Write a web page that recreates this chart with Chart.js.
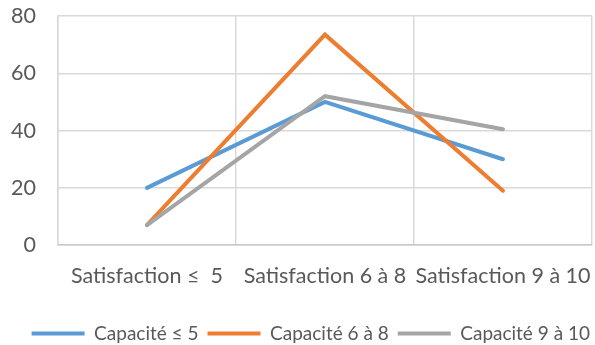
<!DOCTYPE html>
<html>
<head>
<meta charset="utf-8">
<script src="https://cdn.jsdelivr.net/npm/chart.js@4"></script>
<style>
    html, body { margin: 0; padding: 0; background: #fff; }
    #wrap { width: 595px; height: 345px; }
</style>
</head>
<body>
<div id="wrap"><canvas id="satisfaction"></canvas></div>
<script>
const categories = ['Satisfaction \u2264  5', 'Satisfaction 6 \u00e0 8', 'Satisfaction 9 \u00e0 10']

const capacite_5 = [20, 50, 30]
const capacite_6_8 = [7, 73.5, 19]
const capacite_9_10 = [7, 52, 40.5]

const series_names = ['Capacit\u00e9 \u2264 5', 'Capacit\u00e9 6 \u00e0 8', 'Capacit\u00e9 9 \u00e0 10']
const series_colors = ['#5B9BD5', '#ED7D31', '#A5A5A5']

const text_color = '#595959'
const grid_color = '#d9d9d9'
const axis_font = {family: 'Lato', size: 21.5}

function make_dataset(i, values)
{
    return {
        label: series_names[i],
        data: values,
        borderColor: series_colors[i],
        backgroundColor: series_colors[i],
        borderWidth: 4,
        borderCapStyle: 'round',
        borderJoinStyle: 'miter',
        pointRadius: 0,
        pointHoverRadius: 0,
        tension: 0,
        fill: false,
        pointStyle: 'line',
    }
}

// décale la légende vers la droite (le padding des items la tient loin du bord)
const shift_legend = {
    id: 'shift_legend',
    afterLayout(chart) {
        chart.legend.left += 7
        chart.legend.right += 7
    }
}

// l'espace entre libellés et axe passe par tickLength (invisible)
// pour que ticks.padding ne rogne pas la zone de tracé
new Chart(
    document.getElementById('satisfaction'),
    {
        type: 'line',
        plugins: [shift_legend],
        data: {
            labels: categories,
            // ordre inverse: gris dessous, orange au-dessus
            datasets: [
                make_dataset(2, capacite_9_10),
                make_dataset(1, capacite_6_8),
                make_dataset(0, capacite_5),
            ],
        },
        options: {
            responsive: true,
            maintainAspectRatio: false,
            animation: false,
            layout: {
                padding: {top: 16, right: 3, left: 11, bottom: -8}
            },
            plugins: {
                legend: {
                    position: 'bottom',
                    align: 'end',
                    reverse: true,
                    labels: {
                        color: text_color,
                        font: {family: 'Lato', size: 19},
                        usePointStyle: true,
                        pointStyleWidth: 53,
                        boxHeight: 14,
                        padding: 9,
                    },
                },
                tooltip: {
                    enabled: false
                },
            },
            scales: {
                x: {
                    offset: true,
                    afterFit: scale => { scale.height += 26 },
                    grid: {
                        offset: true,
                        color: grid_color,
                        lineWidth: 1.5,
                        drawTicks: true,
                        tickLength: 18,
                        tickColor: 'rgba(0,0,0,0)',
                    },
                    border: {
                        color: '#c8c8c8',
                        width: 1.5,
                    },
                    ticks: {
                        color: text_color,
                        font: axis_font,
                        padding: 0,
                        maxRotation: 0,
                        autoSkip: false,
                    },
                },
                y: {
                    min: 0,
                    max: 80,
                    grid: {
                        color: grid_color,
                        lineWidth: 1.5,
                        drawTicks: true,
                        tickLength: 22,
                        tickColor: 'rgba(0,0,0,0)',
                    },
                    border: {
                        color: grid_color,
                        width: 1.5,
                    },
                    ticks: {
                        stepSize: 20,
                        color: text_color,
                        font: axis_font,
                        padding: 0,
                    },
                },
            },
        },
    }
)
</script>
</body>
</html>
